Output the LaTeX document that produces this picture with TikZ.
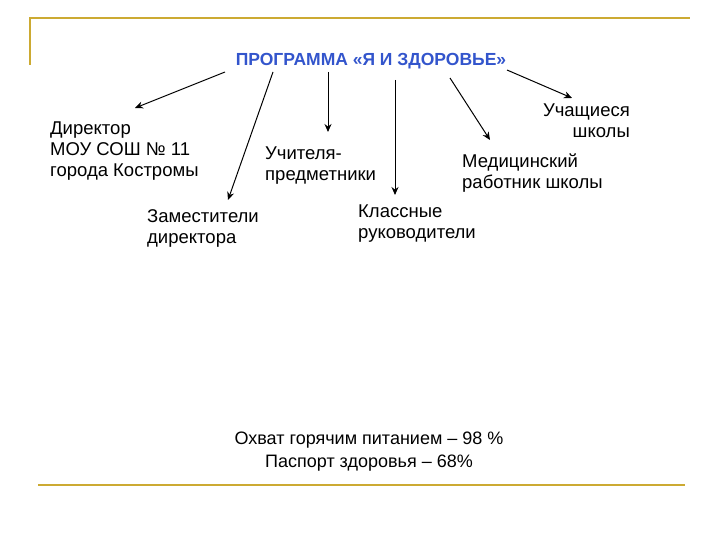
\documentclass[tikz,border=0pt]{standalone}
\usepackage{fontspec}
\setmainfont{Liberation Sans}
\usetikzlibrary{arrows.meta}
\definecolor{olive}{RGB}{204,170,50}
\definecolor{ttl}{RGB}{51,85,204}
\begin{document}
\begin{tikzpicture}[x=1pt,y=-1pt,
  lbl/.style={font=\fontsize{18.5}{21}\selectfont, align=left, inner sep=0pt},
  arr/.style={-{Stealth[length=8pt,width=7pt]}, line width=1pt},
  rule/.style={olive, line width=1.6pt}]
\useasboundingbox (0,0) rectangle (720,540);
\draw[rule] (30,65) -- (30,18) -- (690,18);
\draw[rule] (38,485) -- (685,485);
\node[font=\fontsize{17.5}{20}\selectfont\bfseries, text=ttl, inner sep=0pt] (t) at (371,61) {ПРОГРАММА «Я И ЗДОРОВЬЕ»};
\node[lbl, anchor=north west] (dir) at (50,122) {Директор\\МОУ СОШ № 11\\города Костромы};
\node[lbl, anchor=north west] (uch) at (265,147) {Учителя-\\предметники};
\node[lbl, anchor=north west] (zam) at (147,209) {Заместители\\директора};
\node[lbl, anchor=north west] (kl) at (358,205) {Классные\\руководители};
\node[lbl, anchor=north west] (med) at (462,154) {Медицинский\\работник школы};
\node[lbl, anchor=north east, align=right] (stu) at (630,104) {Учащиеся\\школы};
\node[font=\fontsize{18}{23}\selectfont, align=center, inner sep=0pt] (bot) at (369,452) {Охват горячим питанием – 98 \%\\Паспорт здоровья – 68\%};
\coordinate (s1) at (225,72); \coordinate (e1) at (135,108);
\coordinate (s2) at (273,72); \coordinate (e2) at (228,200);
\coordinate (s3) at (328,72); \coordinate (e3) at (328,132);
\coordinate (s4) at (395,80); \coordinate (e4) at (395,195);
\coordinate (s5) at (450,78); \coordinate (e5) at (490,140);
\coordinate (s6) at (507,70); \coordinate (e6) at (572,98);
\foreach \i in {1,...,6} {\draw[arr] (s\i) -- (e\i);}
\end{tikzpicture}
\end{document}
